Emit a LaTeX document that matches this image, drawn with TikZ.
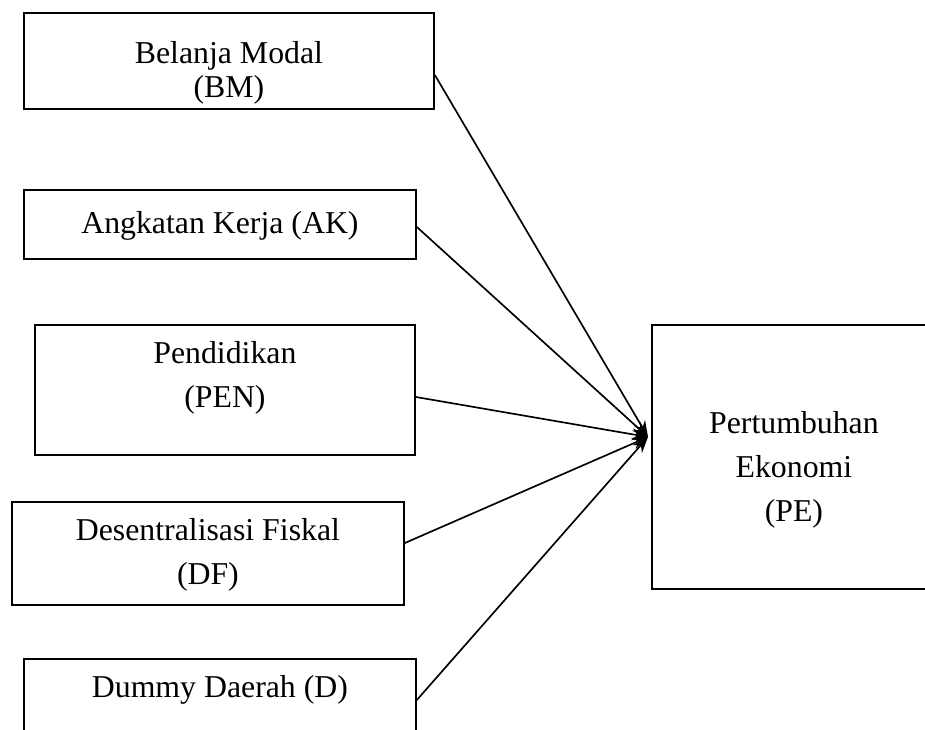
\documentclass[tikz,border=0pt]{standalone}
\usepackage{fontspec}
\setmainfont{Liberation Serif}
\usetikzlibrary{arrows.meta,calc}

\begin{document}
\begin{tikzpicture}[
    x=0.75pt, y=-0.75pt,
    var/.style={rectangle, draw, line width=1.4pt, inner sep=0pt, anchor=north west, align=center, font=\fontsize{23.85}{33}\selectfont},
    arrow/.style={-{Stealth[length=12pt, width=9pt]}, line width=1.25pt}
]
\clip (0,0) rectangle (925,730);

% Left column: independent variables
\node[var, minimum width=307.5pt, text height=63.75pt, text depth=8.25pt, font=\fontsize{23.85}{25.5}\selectfont] (bm) at (23,12) {Belanja Modal\\(BM)};
\node[var, minimum width=294pt, text height=33pt, text depth=18.75pt] (ak) at (23,189) {Angkatan Kerja (AK)};
\node[var, minimum width=285pt, text height=62.25pt, text depth=35.25pt] (pen) at (34,324) {Pendidikan\\(PEN)};
\node[var, minimum width=294pt, text height=62.25pt, text depth=15pt] (df) at (11,501) {Desentralisasi Fiskal\\(DF)};
\node[var, minimum width=294pt, text height=29.25pt, text depth=56.25pt] (d) at (23,658) {Dummy Daerah (D)};

% Right: dependent variable
\node[var, minimum width=213pt, text height=147.75pt, text depth=50.25pt] (pe) at (651,324) {Pertumbuhan\\Ekonomi\\(PE)};
\coordinate (hub) at (648,437);

% Arrows
\draw[arrow] ($(bm.north east)+(0,63)$) -- (hub);
\draw[arrow] ($(ak.north east)+(0,38)$) -- (hub);
\draw[arrow] ($(pen.north east)+(0,73)$) -- (hub);
\draw[arrow] ($(df.north east)+(0,42)$) -- (hub);
\draw[arrow] ($(d.north east)+(0,42)$) -- (hub);

\end{tikzpicture}
\end{document}
